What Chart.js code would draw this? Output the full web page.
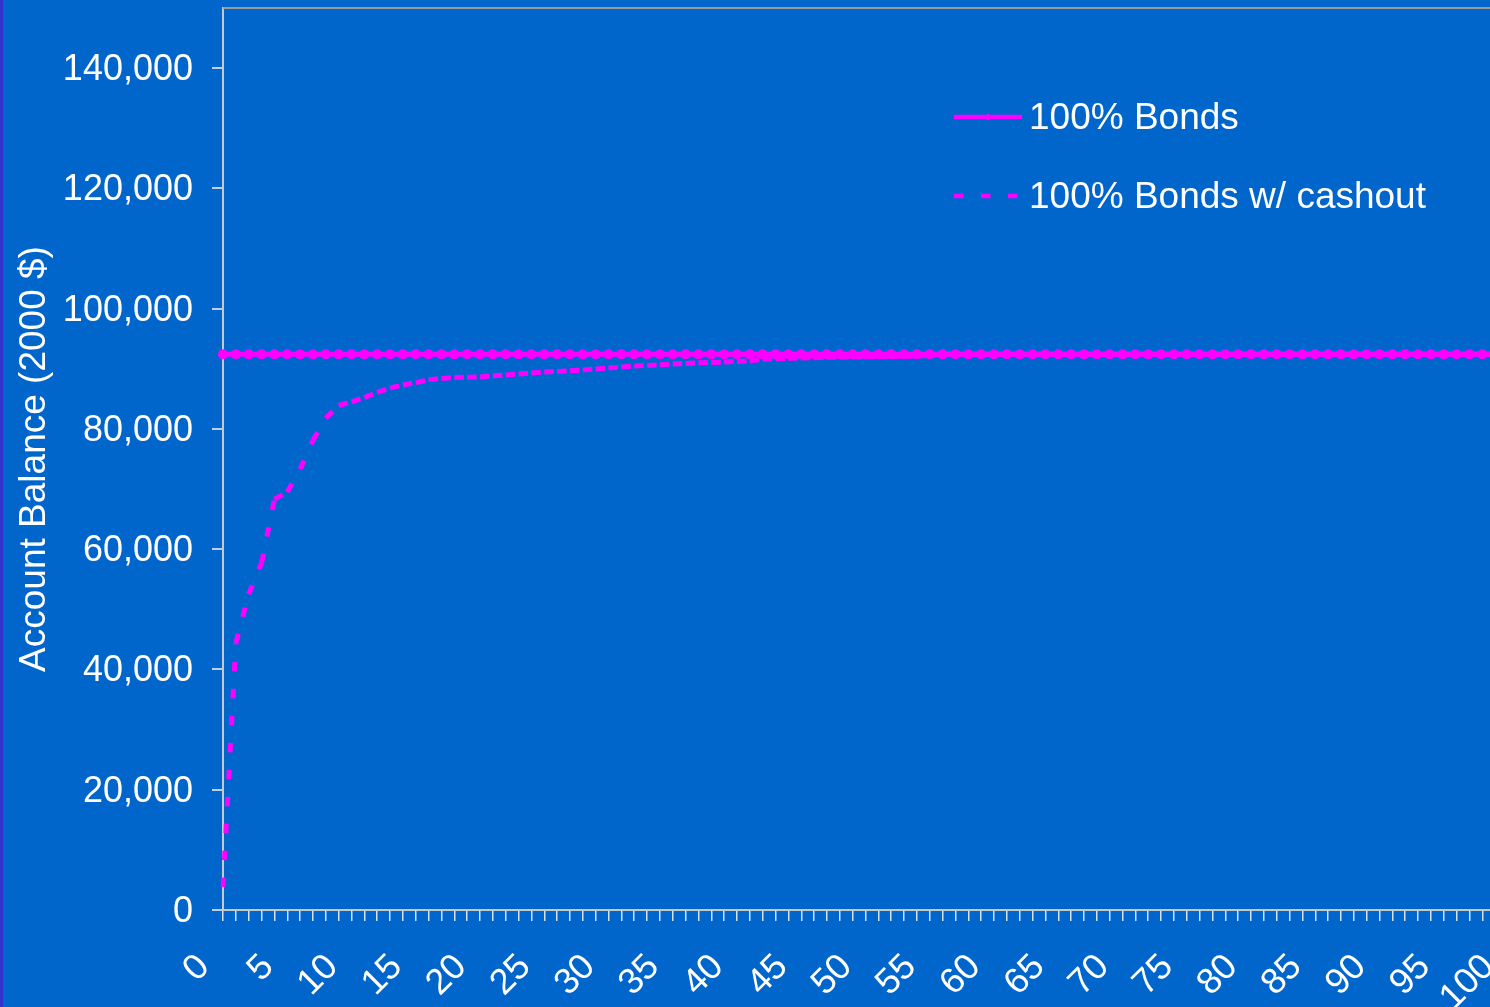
<!DOCTYPE html>
<html>
<head>
<meta charset="utf-8">
<title>Account Balance</title>
<script src="https://cdn.jsdelivr.net/npm/chart.js@4.4.0/dist/chart.umd.min.js"></script>
<style>
  html,body{margin:0;padding:0;background:#0066cc;overflow:hidden;}
  #wrap{position:relative;width:1530px;height:1007px;}
  #strip{position:absolute;left:0;top:0;width:3px;height:1007px;background:#3333cc;z-index:2;}
</style>
</head>
<body>
<div id="wrap">
  <div id="strip"></div>
  <canvas id="balanceChart"></canvas>
</div>
<script>
// ---------------- Data ----------------
const years = [
  0,1,2,3,4,5,6,7,8,9,
  10,11,12,13,14,15,16,17,18,19,
  20,21,22,23,24,25,26,27,28,29,
  30,31,32,33,34,35,36,37,38,39,
  40,41,42,43,44,45,46,47,48,49,
  50,51,52,53,54,55,56,57,58,59,
  60,61,62,63,64,65,66,67,68,69,
  70,71,72,73,74,75,76,77,78,79,
  80,81,82,83,84,85,86,87,88,89,
  90,91,92,93,94,95,96,97,98,99,
  100
];

const bondsBalance = [
  92400,92400,92400,92400,92400,92400,92400,92400,92400,92400,
  92400,92400,92400,92400,92400,92400,92400,92400,92400,92400,
  92400,92400,92400,92400,92400,92400,92400,92400,92400,92400,
  92400,92400,92400,92400,92400,92400,92400,92400,92400,92400,
  92400,92400,92400,92400,92400,92400,92400,92400,92400,92400,
  92400,92400,92400,92400,92400,92400,92400,92400,92400,92400,
  92400,92400,92400,92400,92400,92400,92400,92400,92400,92400,
  92400,92400,92400,92400,92400,92400,92400,92400,92400,92400,
  92400,92400,92400,92400,92400,92400,92400,92400,92400,92400,
  92400,92400,92400,92400,92400,92400,92400,92400,92400,92400,
  92400
];

const cashoutBalance = [
  3800,44400,52500,57700,68300,69500,73300,78100,81800,83900,
  84500,85200,86100,86800,87300,87700,88200,88400,88550,88600,
  88650,88840,88960,89120,89290,89450,89570,89670,89790,89950,
  90120,90280,90450,90570,90670,90780,90900,91000,91060,91120,
  91230,91330,91570,91670,91730,91800,91850,91900,91920,91950,
  91970,92000,92030,92060,92100,92250,92400,92400,92400,92400,
  92400,92400,92400,92400,92400,92400,92400,92400,92400,92400,
  92400,92400,92400,92400,92400,92400,92400,92400,92400,92400,
  92400,92400,92400,92400,92400,92400,92400,92400,92400,92400,
  92400,92400,92400,92400,92400,92400,92400,92400,92400,92400,
  92400
];

const seriesNames = ["100% Bonds","100% Bonds w/ cashout"];
const yTicks = [0,20000,40000,60000,80000,100000,120000,140000];
const yMax = 150000;

// ---------------- Estilo ----------------
const FONT = "'Liberation Sans', Arial, sans-serif";
const FSIZE = 37;      // título e legenda
const TICKSIZE = 36;   // números dos eixos
const MAGENTA = "#ff00ff";

// moldura da área do gráfico + legenda desenhada à mão
const frameAndLegend = {
  id:"frameAndLegend",
  beforeDatasetsDraw(chart){
    const {ctx, chartArea:a} = chart;
    ctx.save();
    ctx.strokeStyle="#9a9a9a";
    ctx.lineWidth=2;
    ctx.beginPath();
    ctx.moveTo(a.left, a.top); ctx.lineTo(a.right, a.top); ctx.lineTo(a.right, a.bottom);
    ctx.stroke();
    ctx.restore();
  },
  afterDraw(chart){
    const {ctx, chartArea:a} = chart;
    const ds = chart.data.datasets;
    const lx = a.left + 731, len = 68;
    const rows = [a.top + 109, a.top + 188];
    ctx.save();
    ctx.font = FSIZE + "px " + FONT;
    ctx.textBaseline = "middle";
    rows.forEach((y,i)=>{
      ctx.strokeStyle = ds[i].borderColor;
      ctx.lineWidth = 4.5;
      ctx.lineCap = "butt";
      ctx.setLineDash(ds[i].borderDash || []);
      ctx.beginPath(); ctx.moveTo(lx, y); ctx.lineTo(lx+len, y); ctx.stroke();
      ctx.setLineDash([]);
      if(i===0){
        ctx.fillStyle = ds[i].borderColor;
        ctx.beginPath();
        ctx.moveTo(lx+len/2-3.5, y); ctx.lineTo(lx+len/2, y-3.5);
        ctx.lineTo(lx+len/2+3.5, y); ctx.lineTo(lx+len/2, y+3.5);
        ctx.closePath(); ctx.fill();
      }
      ctx.fillStyle = "#ffffff";
      ctx.fillText(ds[i].label, lx + len + 7, y + 2);
    });
    ctx.restore();
  }
};

const ctx = document.getElementById("balanceChart").getContext("2d");
new Chart(ctx,{
  type:"line",
  data:{
    labels: years,
    datasets:[
      {
        label: seriesNames[0],
        data: bondsBalance,
        borderColor: MAGENTA,
        backgroundColor: MAGENTA,
        borderWidth: 5,
        pointStyle: "circle",
        pointRadius: 5,
        pointBorderWidth: 0,
        pointBackgroundColor: MAGENTA,
        tension: 0
      },
      {
        label: seriesNames[1],
        data: cashoutBalance,
        borderColor: MAGENTA,
        borderWidth: 5,
        borderDash: [9.5,17.5],
        borderCapStyle: "butt",
        pointRadius: 0,
        tension: 0,
        // cada trecho recomeça o tracejado
        segment:{ borderDashOffset: c => (c.p0DataIndex % 2) ? 0.001 : 0 }
      }
    ]
  },
  options:{
    responsive:true,
    maintainAspectRatio:false,
    animation:false,
    devicePixelRatio:1,
    layout:{padding:{top:8,right:22,left:0,bottom:0}},
    plugins:{legend:{display:false}, tooltip:{enabled:false}},
    scales:{
      x:{
        type:"category",
        offset:false,
        border:{display:true,color:"#c8c8c8",width:2},
        grid:{display:true,drawOnChartArea:false,drawTicks:true,tickLength:11,tickColor:"#d4e2f4",lineWidth:1.5},
        ticks:{
          autoSkip:false,
          maxRotation:45, minRotation:45,
          padding:25,
          labelOffset:-19,
          color:"#ffffff",
          font:{family:FONT,size:TICKSIZE},
          callback:(v,i)=> years[i] % 5 === 0 ? String(years[i]) : ""
        },
        afterFit:s=>{ s.height = 97; s.paddingLeft = 0; s.paddingRight = 0; }
      },
      y:{
        min:0, max:yMax,
        border:{display:true,color:"#c8c8c8",width:2},
        grid:{display:true,drawOnChartArea:false,drawTicks:true,tickLength:11,tickColor:"#b8d0ee",lineWidth:2},
        ticks:{
          autoSkip:false,
          maxTicksLimit:50,
          padding:19,
          labelOffset:2,
          color:"#ffffff",
          font:{family:FONT,size:TICKSIZE},
          callback:v=>v.toLocaleString("en-US")
        },
        afterBuildTicks:s=>{ s.ticks = yTicks.map(v=>({value:v})); },
        title:{
          display:true,
          text:"Account Balance (2000 $)",
          color:"#ffffff",
          font:{family:FONT,size:FSIZE},
          padding:{top:13,bottom:0}
        },
        afterFit:s=>{ s.width = 223; s.paddingTop = 0; s.paddingBottom = 0; }
      }
    }
  },
  plugins:[frameAndLegend]
});
</script>
</body>
</html>
